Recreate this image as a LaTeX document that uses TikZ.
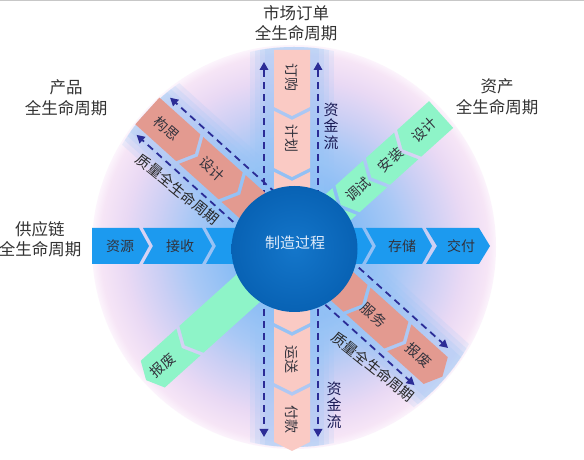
\documentclass[tikz,border=0pt]{standalone}
\usepackage{fontspec}
\setmainfont{Noto Sans CJK SC}
\usetikzlibrary{arrows.meta}
\definecolor{bgA}{RGB}{118,176,242}
\definecolor{bgB}{RGB}{138,189,245}
\definecolor{bgC}{RGB}{168,200,245}
\definecolor{bgD}{RGB}{203,207,244}
\definecolor{bgE}{RGB}{233,217,244}
\definecolor{bgF}{RGB}{246,229,246}
\definecolor{bgG}{RGB}{252,244,252}
\definecolor{hblue}{RGB}{28,154,239}
\definecolor{cblueA}{RGB}{20,118,202}
\definecolor{cblueB}{RGB}{8,98,180}
\definecolor{vpink}{RGB}{250,202,196}
\definecolor{dpink}{RGB}{227,154,144}
\definecolor{mint}{RGB}{142,244,200}
\definecolor{navy}{RGB}{43,44,150}
\definecolor{halo}{RGB}{150,196,245}
\definecolor{txt}{RGB}{50,50,60}
\definecolor{corewhite}{RGB}{225,236,250}
\pgfdeclareradialshading{bgshade}{\pgfpointorigin}{color(0bp)=(bgA); color(8bp)=(bgB); color(13bp)=(bgC); color(17bp)=(bgD); color(21bp)=(bgE); color(24bp)=(bgF); color(25bp)=(bgG); color(50bp)=(white)}
\newcommand\bandhw{18}
\newcommand\bandoff{0}
\newcommand\flatseg[4]{\fill[#4] (#1,\bandoff-\bandhw) -- (#2,\bandoff-\bandhw) -- (#2+#3,\bandoff) -- (#2,\bandoff+\bandhw) -- (#1,\bandoff+\bandhw) -- cycle;}
\newcommand\chevseg[4]{\fill[#4] (#1,\bandoff-\bandhw) -- (#2,\bandoff-\bandhw) -- (#2+#3,\bandoff) -- (#2,\bandoff+\bandhw) -- (#1,\bandoff+\bandhw) -- (#1+#3,\bandoff) -- cycle;}
\newcommand\halostrip[2]{%
  \fill[halo, opacity=.16] (-210,#1-42) rectangle (210,#1+42);
  \fill[halo, opacity=.18] (-210,#1-37) rectangle (210,#1+37);
  \fill[halo, opacity=.2] (-210,#1-32) rectangle (210,#1+32);
  \fill[halo, opacity=.2] (-210,#1-27) rectangle (210,#1+27);}
\begin{document}
\begin{tikzpicture}[x=1pt,y=1pt,
  lbl/.style={text=txt, font=\fontsize{14}{16}\selectfont, inner sep=0pt},
  outer/.style={text=black!80, font=\fontsize{16.5}{20.5}\selectfont, align=center, inner sep=0pt},
  qlbl/.style={text=black!85, font=\fontsize{14.5}{16}\selectfont, inner sep=0pt},
  flowarrow/.style={draw=navy, line width=1.8pt, dash pattern=on 7pt off 5pt, -{Triangle[length=8pt,width=8.5pt]}},
  fundlbl/.style={text=navy!55!black, font=\fontsize{15}{16.5}\selectfont, align=center, inner sep=0pt},
]
\useasboundingbox (0,0) rectangle (584,460);
\fill[white] (0,0) rectangle (584,460);
\fill[black!22] (0,458.6) rectangle (584,460);
\coordinate (C) at (294,213);
\shade[shading=bgshade] (C) circle (202);
% halos
\begin{scope}
  \clip (C) circle (200);
  \begin{scope}[shift={(C)}, rotate=-90]
    \halostrip{-2}{}
  \end{scope}
  \begin{scope}[shift={(C)}, rotate=-42]
    \halostrip{3}{}
  \end{scope}
\end{scope}
% horizontal: supply chain
\begin{scope}[shift={(C)}]
  \renewcommand\bandoff{1}
  \flatseg{-202}{-155}{10}{hblue}
  \chevseg{-151}{-92}{10}{hblue}
  \chevseg{-88}{68}{10}{hblue}
  \chevseg{72}{128}{10}{hblue}
  \chevseg{132}{185}{11}{hblue}
  \node[lbl] (ziyuan) at (-174,1) {资源};
  \node[lbl] (jieshou) at (-114,1) {接收};
  \node[lbl] (cunchu) at (108,1) {存储};
  \node[lbl] (jiaofu) at (167,1) {交付};
\end{scope}
% vertical: market order
\begin{scope}[shift={(C)}, rotate=-90]
  \renewcommand\bandoff{-2}
  \flatseg{-197}{-140}{9}{vpink}
  \chevseg{-136}{-79}{9}{vpink}
  \chevseg{-75}{76}{9}{vpink}
  \chevseg{80}{136}{9}{vpink}
  \chevseg{140}{195}{9}{vpink}
  \node[lbl, rotate=-90] (dinggou) at (-169,-2) {订购};
  \node[lbl, rotate=-90] (jihua) at (-108,-2) {计划};
  \node[lbl, rotate=-90] (yunsong) at (113,-2) {运送};
  \node[lbl, rotate=-90] (fukuan) at (173,-2) {付款};
  \coordinate (va1) at (-50,-30); \coordinate (va2) at (-185,-30);
  \coordinate (vb1) at (-50,24);  \coordinate (vb2) at (-185,24);
  \coordinate (vc1) at (50,-30);  \coordinate (vc2) at (190,-30);
  \coordinate (vd1) at (50,24);   \coordinate (vd2) at (190,24);
  \draw[flowarrow] (va1) -- (va2);
  \draw[flowarrow] (vb1) -- (vb2);
  \draw[flowarrow] (vc1) -- (vc2);
  \draw[flowarrow] (vd1) -- (vd2);
\end{scope}
% diagonal pink: product
\begin{scope}[shift={(C)}, rotate=-42]
  \renewcommand\bandoff{3}
  \flatseg{-200}{-145}{9}{dpink}
  \chevseg{-141}{-88}{9}{dpink}
  \chevseg{-84}{80}{9}{dpink}
  \chevseg{84}{135}{9}{dpink}
  \chevseg{139}{188}{9}{dpink}
  \node[lbl, rotate=-41] (gousi) at (-174,3) {构思};
  \node[lbl, rotate=-41] (sheji) at (-113,3) {设计};
  \node[lbl, rotate=-41] (fuwu) at (105,3) {服务};
  \node[lbl, rotate=-41] (baofeiA) at (165,3) {报废};
  \coordinate (pa1) at (-50,28);  \coordinate (pa2) at (-192,28);
  \coordinate (pb1) at (-50,-22); \coordinate (pb2) at (-192,-22);
  \coordinate (pc1) at (50,28);   \coordinate (pc2) at (182,28);
  \coordinate (pd1) at (50,-22);  \coordinate (pd2) at (182,-22);
  \draw[flowarrow] (pa1) -- (pa2);
  \draw[flowarrow] (pb1) -- (pb2);
  \draw[flowarrow] (pc1) -- (pc2);
  \draw[flowarrow] (pd1) -- (pd2);
  \node[qlbl, rotate=-39] (qualA) at (-125,-35) {质量全生命周期};
  \node[qlbl, rotate=-39] (qualB) at (139,-36) {质量全生命周期};
\end{scope}
% diagonal green: asset
\begin{scope}[shift={(C)}, rotate=222]
  \renewcommand\bandoff{0}
  \flatseg{-198}{-155}{9}{mint}
  \chevseg{-151}{-113}{9}{mint}
  \chevseg{-109}{-72}{9}{mint}
  \chevseg{-68}{138}{9}{mint}
  \chevseg{142}{190}{9}{mint}
  \node[lbl, rotate=42] (shejiB) at (-175,0) {设计};
  \node[lbl, rotate=42] (anzhuang) at (-130,0) {安装};
  \node[lbl, rotate=42] (tiaoshi) at (-86,0) {调试};
  \node[lbl, rotate=42] (baofeiB) at (177,0) {报废};
\end{scope}
% core
\node[circle, inner sep=0pt, minimum size=126pt, inner color=cblueA, outer color=cblueB] (core) at (294.5,211) {};
\node[text=corewhite, font=\fontsize{15}{17}\selectfont, inner sep=0pt] (coretxt) at (295,217) {制造过程};
% fund flow labels
\node[fundlbl] (fundA) at (331,334) {资\\金\\流};
\node[fundlbl] (fundB) at (334,55) {资\\金\\流};
% outer labels
\node[outer] (market) at (296,437) {市场订单\\全生命周期};
\node[outer] (product) at (66,362) {产品\\全生命周期};
\node[outer] (asset) at (497,363) {资产\\全生命周期};
\node[outer] (supply) at (40,221) {供应链\\全生命周期};
\end{tikzpicture}
\end{document}
